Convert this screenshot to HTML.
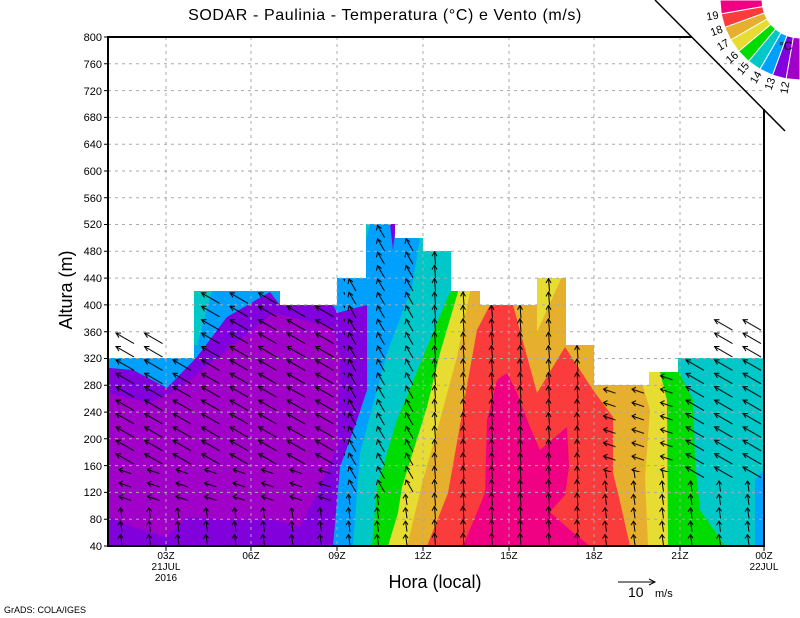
<!DOCTYPE html>
<html><head><meta charset="utf-8"><style>
html,body{margin:0;padding:0;background:#fff;}
svg{display:block;font-family:"Liberation Sans",sans-serif;}
</style></head><body>
<svg width="800" height="618" viewBox="0 0 800 618" xmlns="http://www.w3.org/2000/svg">
<defs>
<clipPath id="c"><polygon points="108,546 108,358 194,358 194,291 280,291 280,305 337,305 337,278 366,278 366,224 395,224 395,238 423,238 423,251 451,251 451,291 480,291 480,305 537,305 537,278 566,278 566,345 594,345 594,385 649,385 649,372 678,372 678,358 764,358 764,546"/></clipPath>
<pattern id="pUp" patternUnits="userSpaceOnUse" x="108" y="546" width="28.5" height="13.4"><g stroke="#000" fill="none"><line x1="14" y1="12.5" x2="12.5" y2="2"/><polyline points="10,6 12.5,2 15,5.5"/></g></pattern>
<pattern id="pLeft" patternUnits="userSpaceOnUse" x="108" y="546" width="28.5" height="13.4"><g stroke="#000" fill="none"><line x1="23" y1="8" x2="11" y2="4"/><polyline points="15,2 11,4 14.5,7.5"/></g></pattern>
<pattern id="pNW" patternUnits="userSpaceOnUse" x="108" y="546" width="28.5" height="13.4"><g stroke="#000" fill="none"><line x1="26" y1="12" x2="8" y2="1.5"/><polyline points="13,1.5 8,1.5 11,6"/></g></pattern>
<pattern id="pNWs" patternUnits="userSpaceOnUse" x="108" y="546" width="28.5" height="13.4"><g stroke="#000" fill="none"><line x1="20" y1="13" x2="13" y2="1"/><polyline points="12,6 13,1 17,4"/></g></pattern>
<pattern id="pN" patternUnits="userSpaceOnUse" x="108" y="546" width="28.5" height="13.4"><g stroke="#000" fill="none"><line x1="14" y1="13.4" x2="13" y2="0.5"/><polyline points="10.5,5 13,0.5 15.5,5"/></g></pattern>
</defs>
<g clip-path="url(#c)">
<rect x="100" y="200" width="670" height="350" fill="#00c8c8"/>
<polygon fill="#00a0ff" points="100,200 418,200 420,238 412,287 387,353 360,453 353,546 100,546"/>
<polygon fill="#00a0ff" points="755,546 755,480 764,470 770,546"/>
<polygon fill="#00c8c8" points="194,291 212,291 197,345 194,345"/>
<polygon fill="#00c8c8" points="366,224 370,224 366,240"/>
<polygon fill="#8200dc" points="100,368 110,368 133,370 167,388 197,357 227,317 270,292 280,305 333,305 337,313 367,305 367,390 357,420 340,467 333,546 100,546"/>
<polygon fill="#8200dc" points="390,224 396,224 393,250"/>
<polygon fill="#a000c8" points="108,393 150,403 177,390 227,350 273,313 333,327 340,357 337,447 317,493 300,527 273,520 227,520 187,517 167,537 133,527 108,517"/>
<polygon fill="#00dc00" points="372,546 377,487 397,420 430,340 450,292 451,292 451,200 680,200 678,370 693,400 695,460 700,510 723,543 725,546"/>
<polygon fill="#e6dc32" points="388,546 398,513 402,487 427,407 440,353 458,292 460,200 662,200 660,372 667,400 668,543 668,546"/>
<polygon fill="#e6af2d" points="407,546 423,480 440,420 457,357 470,292 472,200 645,200 642,383 650,410 645,477 648,546"/>
<polygon fill="#e6dc32" points="537,270 565,270 537,332"/>
<polygon fill="#fa3c3c" points="427,546 448,493 468,380 477,330 490,305 490,200 515,200 513,305 537,393 565,347 593,390 613,417 613,473 618,493 630,546"/>
<polygon fill="#f00082" points="463,546 485,493 487,420 497,380 507,373 517,393 530,427 540,450 567,427 569,467 565,495 550,512 570,530 590,546"/>
</g>
<!-- grid -->
<g stroke="#aaa" stroke-width="1" stroke-dasharray="3,4">
<path d="M108 519.2H764M108 492.4H764M108 465.6H764M108 438.8H764M108 412.1H764M108 385.3H764M108 358.5H764M108 331.7H764M108 304.9H764M108 278.1H764M108 251.3H764M108 224.5H764M108 197.8H764M108 171H764M108 144.2H764M108 117.4H764M108 90.6H764M108 63.8H764"/>
<path d="M166 37V546M251 37V546M337 37V546M423 37V546M509 37V546M594 37V546M680 37V546"/>
</g>
<!-- wind arrows -->
<g clip-path="url(#c)">
<rect x="108" y="505.8" width="237" height="40.2" fill="url(#pUp)"/>
<rect x="108" y="465.6" width="237" height="40.2" fill="url(#pLeft)"/>
<rect x="108" y="200" width="237" height="265.6" fill="url(#pNW)"/>
<rect x="345" y="492.4" width="75" height="53.6" fill="url(#pUp)"/>
<rect x="345" y="200" width="75" height="292.4" fill="url(#pNWs)"/>
<rect x="420" y="200" width="180" height="346" fill="url(#pN)"/>
<rect x="600" y="472" width="78" height="74" fill="url(#pUp)"/>
<rect x="600" y="200" width="78" height="272" fill="url(#pLeft)"/>
<rect x="678" y="479" width="86" height="67" fill="url(#pUp)"/>
<rect x="678" y="200" width="86" height="279" fill="url(#pNW)"/>
</g>
<rect x="108" y="331.8" width="57" height="26.7" fill="url(#pNW)"/>
<rect x="706.5" y="318.4" width="57.5" height="40.1" fill="url(#pNW)"/>
<!-- frame -->
<g stroke="#000" stroke-width="2" fill="none">
<line x1="108" y1="37" x2="108" y2="547"/>
<line x1="107" y1="546" x2="765" y2="546"/>
<line x1="764" y1="109" x2="764" y2="547"/>
<line x1="107" y1="37" x2="692" y2="37"/>
</g>
<path d="M104 519.2H108M104 492.4H108M104 465.6H108M104 438.8H108M104 412.1H108M104 385.3H108M104 358.5H108M104 331.7H108M104 304.9H108M104 278.1H108M104 251.3H108M104 224.5H108M104 197.8H108M104 171H108M104 144.2H108M104 117.4H108M104 90.6H108M104 63.8H108M104 37H108M104 546H108M166 546V551M251 546V551M337 546V551M423 546V551M509 546V551M594 546V551M680 546V551M764 546V551" stroke="#000"/>
<line x1="655" y1="0" x2="785" y2="131" stroke="#000" stroke-width="1.5"/>
<g font-size="11" text-anchor="end">
<text x="102" y="550">40</text><text x="102" y="523">80</text><text x="102" y="496">120</text><text x="102" y="470">160</text><text x="102" y="443">200</text><text x="102" y="416">240</text><text x="102" y="389">280</text><text x="102" y="362">320</text><text x="102" y="336">360</text><text x="102" y="309">400</text><text x="102" y="282">440</text><text x="102" y="255">480</text><text x="102" y="228">520</text><text x="102" y="202">560</text><text x="102" y="175">600</text><text x="102" y="148">640</text><text x="102" y="121">680</text><text x="102" y="95">720</text><text x="102" y="68">760</text><text x="102" y="41">800</text>
</g>
<!-- colorbar -->
<g stroke="#fff" stroke-width="1">
<polygon fill="#f00082" points="720,0 721.2,13.9 762.6,6.6 762,0"/>
<polygon fill="#fa3c3c" points="721.2,13.9 724.8,27.4 764.3,13 762.6,6.6"/>
<polygon fill="#e6af2d" points="724.8,27.4 730.7,40 767.1,19 764.3,13"/>
<polygon fill="#e6dc32" points="730.7,40 738.7,51.4 770.9,24.4 767.1,19"/>
<polygon fill="#00dc00" points="738.7,51.4 748.6,61.3 775.6,29.1 770.9,24.4"/>
<polygon fill="#00c8c8" points="748.6,61.3 760,69.3 781,32.9 775.6,29.1"/>
<polygon fill="#00a0ff" points="760,69.3 772.6,75.2 787,35.7 781,32.9"/>
<polygon fill="#8200dc" points="772.6,75.2 786.1,78.8 793.4,37.4 787,35.7"/>
<polygon fill="#a000c8" points="786.1,78.8 800,80 800,38 793.4,37.4"/>
</g>
<g font-size="11" text-anchor="middle">
<text x="712.4" y="19.5" transform="rotate(-10 712.4 15.5)">19</text>
<text x="716.4" y="34.4" transform="rotate(-20 716.4 30.4)">18</text>
<text x="722.9" y="48.5" transform="rotate(-30 722.9 44.5)">17</text>
<text x="731.8" y="61.2" transform="rotate(-40 731.8 57.2)">16</text>
<text x="742.8" y="72.2" transform="rotate(-50 742.8 68.2)">15</text>
<text x="755.5" y="81.1" transform="rotate(-60 755.5 77.1)">14</text>
<text x="769.6" y="87.6" transform="rotate(-70 769.6 83.6)">13</text>
<text x="784.5" y="91.6" transform="rotate(-80 784.5 87.6)">12</text>
</g>
<text x="779" y="50" font-size="12">°C</text>
<text x="385" y="20" font-size="16" text-anchor="middle" letter-spacing="0.6">SODAR - Paulinia - Temperatura (°C) e Vento (m/s)</text>
<text x="72" y="290" font-size="18" text-anchor="middle" transform="rotate(-90 72 290)">Altura (m)</text>
<text x="435" y="588" font-size="18" text-anchor="middle">Hora (local)</text>
<g font-size="10" text-anchor="middle">
<text x="166" y="559">03Z</text><text x="166" y="570">21JUL</text><text x="166" y="581">2016</text>
<text x="251" y="559">06Z</text><text x="337" y="559">09Z</text><text x="423" y="559">12Z</text>
<text x="509" y="559">15Z</text><text x="594" y="559">18Z</text><text x="680" y="559">21Z</text>
<text x="764" y="559">00Z</text><text x="764" y="570">22JUL</text>
</g>
<line x1="618" y1="582" x2="655" y2="582" stroke="#000"/>
<polyline points="649,579 655,582 649,585" stroke="#000" fill="none"/>
<text x="628" y="597" font-size="14">10</text>
<text x="655" y="597" font-size="11">m/s</text>
<text x="4" y="613" font-size="9">GrADS: COLA/IGES</text>
</svg>
</body></html>
